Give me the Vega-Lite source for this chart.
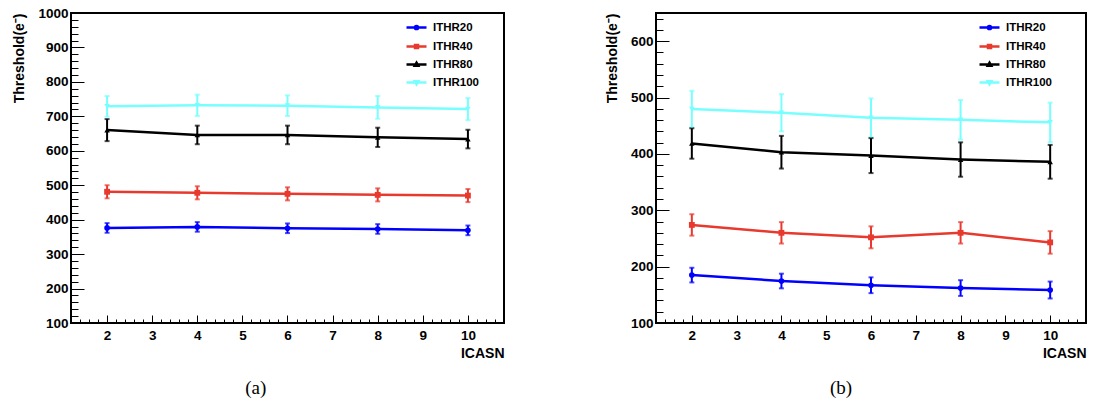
{
  "$schema": "https://vega.github.io/schema/vega-lite/v6.json",
  "background": "white",
  "padding": {"left": 11, "top": 5, "right": 0, "bottom": 0},
  "spacing": 98,
  "config": {
    "font": "Liberation Sans",
    "view": {"stroke": "black", "strokeWidth": 2},
    "axis": {"grid": false, "domain": false, "tickColor": "black", "tickWidth": 1, "labelColor": "black", "labelFontWeight": "bold", "labelFontSize": 13.5, "titleColor": "black", "titleFontWeight": "bold", "labelFlush": false, "labelOverlap": false, "labelBound": false}
  },
  "data": {"values": [
    {"panel": "a", "series": "ITHR20", "icasn": 2, "thr": 376, "err": 14},
    {"panel": "a", "series": "ITHR20", "icasn": 4, "thr": 379, "err": 14},
    {"panel": "a", "series": "ITHR20", "icasn": 6, "thr": 375, "err": 14},
    {"panel": "a", "series": "ITHR20", "icasn": 8, "thr": 373, "err": 14},
    {"panel": "a", "series": "ITHR20", "icasn": 10, "thr": 369, "err": 14},
    {"panel": "a", "series": "ITHR40", "icasn": 2, "thr": 481, "err": 19},
    {"panel": "a", "series": "ITHR40", "icasn": 4, "thr": 478, "err": 19},
    {"panel": "a", "series": "ITHR40", "icasn": 6, "thr": 475, "err": 19},
    {"panel": "a", "series": "ITHR40", "icasn": 8, "thr": 472, "err": 19},
    {"panel": "a", "series": "ITHR40", "icasn": 10, "thr": 470, "err": 19},
    {"panel": "a", "series": "ITHR80", "icasn": 2, "thr": 660, "err": 32},
    {"panel": "a", "series": "ITHR80", "icasn": 4, "thr": 646, "err": 27},
    {"panel": "a", "series": "ITHR80", "icasn": 6, "thr": 646, "err": 27},
    {"panel": "a", "series": "ITHR80", "icasn": 8, "thr": 639, "err": 28},
    {"panel": "a", "series": "ITHR80", "icasn": 10, "thr": 634, "err": 27},
    {"panel": "a", "series": "ITHR100", "icasn": 2, "thr": 729, "err": 30},
    {"panel": "a", "series": "ITHR100", "icasn": 4, "thr": 732, "err": 31},
    {"panel": "a", "series": "ITHR100", "icasn": 6, "thr": 731, "err": 30},
    {"panel": "a", "series": "ITHR100", "icasn": 8, "thr": 726, "err": 33},
    {"panel": "a", "series": "ITHR100", "icasn": 10, "thr": 721, "err": 32},
    {"panel": "b", "series": "ITHR20", "icasn": 2, "thr": 185, "err": 13},
    {"panel": "b", "series": "ITHR20", "icasn": 4, "thr": 174.5, "err": 13},
    {"panel": "b", "series": "ITHR20", "icasn": 6, "thr": 167, "err": 14},
    {"panel": "b", "series": "ITHR20", "icasn": 8, "thr": 162, "err": 14},
    {"panel": "b", "series": "ITHR20", "icasn": 10, "thr": 158.5, "err": 15},
    {"panel": "b", "series": "ITHR40", "icasn": 2, "thr": 274, "err": 19},
    {"panel": "b", "series": "ITHR40", "icasn": 4, "thr": 260, "err": 19},
    {"panel": "b", "series": "ITHR40", "icasn": 6, "thr": 252, "err": 19.5},
    {"panel": "b", "series": "ITHR40", "icasn": 8, "thr": 260, "err": 19},
    {"panel": "b", "series": "ITHR40", "icasn": 10, "thr": 243, "err": 20},
    {"panel": "b", "series": "ITHR80", "icasn": 2, "thr": 418.5, "err": 27},
    {"panel": "b", "series": "ITHR80", "icasn": 4, "thr": 403, "err": 29},
    {"panel": "b", "series": "ITHR80", "icasn": 6, "thr": 397, "err": 31},
    {"panel": "b", "series": "ITHR80", "icasn": 8, "thr": 390, "err": 30.5},
    {"panel": "b", "series": "ITHR80", "icasn": 10, "thr": 386, "err": 30},
    {"panel": "b", "series": "ITHR100", "icasn": 2, "thr": 479.5, "err": 32.5},
    {"panel": "b", "series": "ITHR100", "icasn": 4, "thr": 473, "err": 33},
    {"panel": "b", "series": "ITHR100", "icasn": 6, "thr": 464, "err": 34.5},
    {"panel": "b", "series": "ITHR100", "icasn": 8, "thr": 460.5, "err": 35},
    {"panel": "b", "series": "ITHR100", "icasn": 10, "thr": 456, "err": 35}
  ]},
  "resolve": {"scale": {"color": "independent", "y": "independent", "x": "independent"}},
  "hconcat": [
    {
      "width": 433,
      "height": 310,
      "title": {"text": "(a)", "orient": "bottom", "font": "Liberation Serif", "fontSize": 19, "fontWeight": "normal", "color": "black", "frame": "bounds", "anchor": "middle", "offset": 18, "dx": -3},
      "transform": [{"filter": "datum.panel === 'a'"}],
      "encoding": {
        "x": {"field": "icasn", "type": "quantitative", "scale": {"domain": [1.2, 10.8], "nice": false, "zero": false},
          "axis": {"title": "ICASN", "titleAnchor": "end", "titleAlign": "right", "titleFontSize": 14, "titlePadding": 1,
            "values": [1.2,1.4,1.6,1.8,2,2.2,2.4,2.6,2.8,3,3.2,3.4,3.6,3.8,4,4.2,4.4,4.6,4.8,5,5.2,5.4,5.6,5.8,6,6.2,6.4,6.6,6.8,7,7.2,7.4,7.6,7.8,8,8.2,8.4,8.6,8.8,9,9.2,9.4,9.6,9.8,10,10.2,10.4,10.6,10.8],
            "labelExpr": "abs(datum.value - round(datum.value)) < 0.01 ? format(round(datum.value), 'd') : ''",
            "tickSize": {"condition": {"test": "abs(datum.value - round(datum.value)) < 0.01", "value": -8}, "value": -4},
            "labelPadding": 13}},
        "y": {"field": "thr", "type": "quantitative", "scale": {"domain": [100, 1000], "nice": false, "zero": false},
          "axis": {"title": "Threshold(e⁻)", "titleAnchor": "end", "titleFontSize": 14, "titlePadding": 11,
            "values": [100,120,140,160,180,200,220,240,260,280,300,320,340,360,380,400,420,440,460,480,500,520,540,560,580,600,620,640,660,680,700,720,740,760,780,800,820,840,860,880,900,920,940,960,980,1000],
            "labelExpr": "datum.value % 100 === 0 ? format(datum.value, 'd') : ''",
            "tickSize": {"condition": {"test": "datum.value % 100 === 0", "value": -13}, "value": -7},
            "labelPadding": 16}}
      },
      "layer": [
        {"mark": {"type": "line", "strokeWidth": 2.5},
          "encoding": {"color": {"field": "series", "type": "nominal",
            "scale": {"domain": ["ITHR20", "ITHR40", "ITHR80", "ITHR100"], "range": ["#0000ff", "#e8392e", "#000000", "#77ffff"]},
            "legend": {"orient": "none", "legendX": 334, "legendY": 3, "title": null, "symbolType": "stroke", "symbolSize": 400, "symbolStrokeWidth": 2.5, "labelFontSize": 11.5, "labelFontWeight": "bold", "labelColor": "black", "labelOffset": 5, "rowPadding": 0, "padding": 0,
              "encode": {"symbols": {"update": {
                "shape": {"signal": "datum.value === 'ITHR20' ? 'M-1,0H1M0.16,0A0.16,0.16 0 1,1 -0.16,0A0.16,0.16 0 1,1 0.16,0Z' : datum.value === 'ITHR40' ? 'M-1,0H1M-0.15,-0.15H0.15V0.15H-0.15Z' : datum.value === 'ITHR80' ? 'M-1,0H1M0,-0.18L0.17,0.12H-0.17Z' : 'M-1,0H1M0,0.18L0.17,-0.12H-0.17Z'"},
                "fill": {"signal": "datum.value === 'ITHR20' ? '#0000ff' : datum.value === 'ITHR40' ? '#e8392e' : datum.value === 'ITHR80' ? '#000000' : '#77ffff'"}
              }}}}}}},
        {"mark": {"type": "errorbar", "ticks": {"size": 5}, "thickness": 2},
          "encoding": {"yError": {"field": "err"}, "color": {"field": "series", "type": "nominal"}}},
        {"transform": [{"filter": "datum.series === 'ITHR20'"}], "mark": {"type": "point", "filled": true, "size": 32, "opacity": 1, "shape": "circle"},
          "encoding": {"color": {"field": "series", "type": "nominal"}}},
        {"transform": [{"filter": "datum.series === 'ITHR40'"}], "mark": {"type": "point", "filled": true, "size": 34, "opacity": 1, "shape": "square"},
          "encoding": {"color": {"field": "series", "type": "nominal"}}},
        {"transform": [{"filter": "datum.series === 'ITHR80'"}], "mark": {"type": "point", "filled": true, "size": 30, "opacity": 1, "shape": "triangle-up"},
          "encoding": {"color": {"field": "series", "type": "nominal"}}},
        {"transform": [{"filter": "datum.series === 'ITHR100'"}], "mark": {"type": "point", "filled": true, "size": 30, "opacity": 1, "shape": "triangle-down"},
          "encoding": {"color": {"field": "series", "type": "nominal"}}}
      ]
    },
    {
      "width": 430,
      "height": 310,
      "title": {"text": "(b)", "orient": "bottom", "font": "Liberation Serif", "fontSize": 19, "fontWeight": "normal", "color": "black", "frame": "bounds", "anchor": "middle", "offset": 18, "dx": -5},
      "transform": [{"filter": "datum.panel === 'b'"}],
      "encoding": {
        "x": {"field": "icasn", "type": "quantitative", "scale": {"domain": [1.2, 10.8], "nice": false, "zero": false},
          "axis": {"title": "ICASN", "titleAnchor": "end", "titleAlign": "right", "titleFontSize": 14, "titlePadding": 1,
            "values": [1.2,1.4,1.6,1.8,2,2.2,2.4,2.6,2.8,3,3.2,3.4,3.6,3.8,4,4.2,4.4,4.6,4.8,5,5.2,5.4,5.6,5.8,6,6.2,6.4,6.6,6.8,7,7.2,7.4,7.6,7.8,8,8.2,8.4,8.6,8.8,9,9.2,9.4,9.6,9.8,10,10.2,10.4,10.6,10.8],
            "labelExpr": "abs(datum.value - round(datum.value)) < 0.01 ? format(round(datum.value), 'd') : ''",
            "tickSize": {"condition": {"test": "abs(datum.value - round(datum.value)) < 0.01", "value": -8}, "value": -4},
            "labelPadding": 13}},
        "y": {"field": "thr", "type": "quantitative", "scale": {"domain": [100, 650], "nice": false, "zero": false},
          "axis": {"title": "Threshold(e⁻)", "titleAnchor": "end", "titleFontSize": 14, "titlePadding": 11,
            "values": [100,120,140,160,180,200,220,240,260,280,300,320,340,360,380,400,420,440,460,480,500,520,540,560,580,600,620,640],
            "labelExpr": "datum.value % 100 === 0 ? format(datum.value, 'd') : ''",
            "tickSize": {"condition": {"test": "datum.value % 100 === 0", "value": -13}, "value": -7},
            "labelPadding": 16}}
      },
      "layer": [
        {"mark": {"type": "line", "strokeWidth": 2.5},
          "encoding": {"color": {"field": "series", "type": "nominal",
            "scale": {"domain": ["ITHR20", "ITHR40", "ITHR80", "ITHR100"], "range": ["#0000ff", "#e8392e", "#000000", "#77ffff"]},
            "legend": {"orient": "none", "legendX": 322, "legendY": 3, "title": null, "symbolType": "stroke", "symbolSize": 400, "symbolStrokeWidth": 2.5, "labelFontSize": 11.5, "labelFontWeight": "bold", "labelColor": "black", "labelOffset": 5, "rowPadding": 0, "padding": 0,
              "encode": {"symbols": {"update": {
                "shape": {"signal": "datum.value === 'ITHR20' ? 'M-1,0H1M0.16,0A0.16,0.16 0 1,1 -0.16,0A0.16,0.16 0 1,1 0.16,0Z' : datum.value === 'ITHR40' ? 'M-1,0H1M-0.15,-0.15H0.15V0.15H-0.15Z' : datum.value === 'ITHR80' ? 'M-1,0H1M0,-0.18L0.17,0.12H-0.17Z' : 'M-1,0H1M0,0.18L0.17,-0.12H-0.17Z'"},
                "fill": {"signal": "datum.value === 'ITHR20' ? '#0000ff' : datum.value === 'ITHR40' ? '#e8392e' : datum.value === 'ITHR80' ? '#000000' : '#77ffff'"}
              }}}}}}},
        {"mark": {"type": "errorbar", "ticks": {"size": 5}, "thickness": 2},
          "encoding": {"yError": {"field": "err"}, "color": {"field": "series", "type": "nominal"}}},
        {"transform": [{"filter": "datum.series === 'ITHR20'"}], "mark": {"type": "point", "filled": true, "size": 32, "opacity": 1, "shape": "circle"},
          "encoding": {"color": {"field": "series", "type": "nominal"}}},
        {"transform": [{"filter": "datum.series === 'ITHR40'"}], "mark": {"type": "point", "filled": true, "size": 34, "opacity": 1, "shape": "square"},
          "encoding": {"color": {"field": "series", "type": "nominal"}}},
        {"transform": [{"filter": "datum.series === 'ITHR80'"}], "mark": {"type": "point", "filled": true, "size": 30, "opacity": 1, "shape": "triangle-up"},
          "encoding": {"color": {"field": "series", "type": "nominal"}}},
        {"transform": [{"filter": "datum.series === 'ITHR100'"}], "mark": {"type": "point", "filled": true, "size": 30, "opacity": 1, "shape": "triangle-down"},
          "encoding": {"color": {"field": "series", "type": "nominal"}}}
      ]
    }
  ]
}
